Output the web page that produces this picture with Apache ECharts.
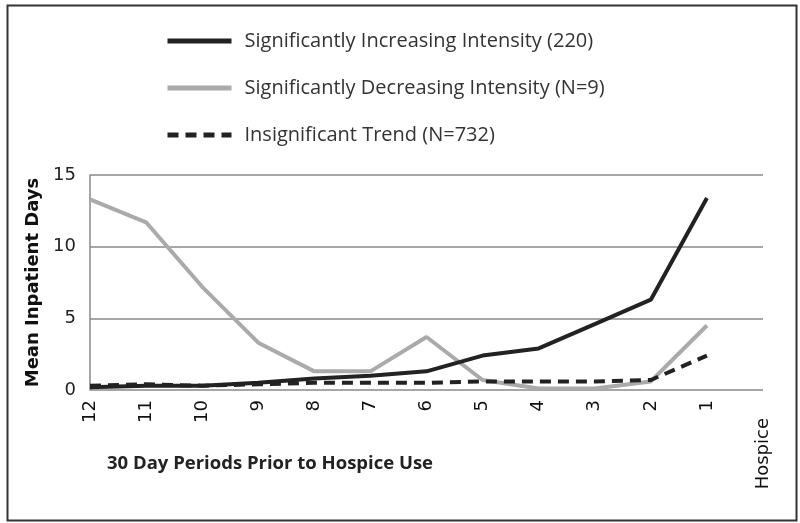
<!DOCTYPE html>
<html>
<head>
<meta charset="utf-8">
<script src="https://cdn.jsdelivr.net/npm/echarts@6/dist/echarts.min.js"></script>
<style>
  html, body { margin: 0; padding: 0; background: #fff; }
  #chart { width: 800px; height: 523px; }
</style>
</head>
<body>
<div id="chart"></div>
<script>
const periods = ['12', '11', '10', '9', '8', '7', '6', '5', '4', '3', '2', '1', 'Hospice']
const increasing = [0.2, 0.3, 0.3, 0.5, 0.8, 1.0, 1.3, 2.4, 2.9, 4.6, 6.3, 13.4]
const decreasing = [13.3, 11.7, 7.2, 3.3, 1.3, 1.3, 3.7, 0.7, 0.1, 0.1, 0.6, 4.5]
const insignificant = [0.3, 0.4, 0.3, 0.4, 0.5, 0.5, 0.5, 0.6, 0.6, 0.6, 0.7, 2.4]
const yTicks = { min: 0, max: 15, interval: 5 }

const labelFont = "'Liberation Sans Narrow', 'Open Sans', sans-serif"
const tickFont = "'DejaVu Sans', Verdana, sans-serif"

const chart = echarts.init(document.getElementById('chart'))

chart.setOption({
  animation: false,
  grid: { left: 90, right: 37, top: 175, bottom: 133 },
  legend: {
    orient: 'vertical',
    left: 160,
    top: 26,
    itemWidth: 64,
    itemHeight: 14,
    itemGap: 27,
    itemStyle: { opacity: 0 },
    lineStyle: { width: 5 },
    textStyle: { fontFamily: labelFont, fontSize: 20, color: '#333', padding: [0, 0, 0, 8] },
    data: [
      'Significantly Increasing Intensity (220)',
      'Significantly Decreasing Intensity (N=9)',
      'Insignificant Trend (N=732)'
    ]
  },
  graphic: [
    {
      type: 'rect',
      left: 5, top: 3,
      shape: { width: 789, height: 515 },
      style: { fill: 'none', stroke: '#333', lineWidth: 2 }
    },
    {
      type: 'text',
      left: 107, top: 454,
      style: {
        text: '30 Day Periods Prior to Hospice Use',
        fontFamily: labelFont, fontWeight: 'bold', fontSize: 18.5, fill: '#222'
      }
    }
  ],
  xAxis: {
    type: 'category',
    data: periods.map(p => p === 'Hospice'
      ? { value: p, textStyle: { padding: [0, 18, 0, 0] } }
      : p),
    boundaryGap: false,
    axisLine: { show: false },
    axisTick: { show: false },
    axisLabel: {
      rotate: 90, margin: 10, interval: 0,
      fontFamily: tickFont, fontSize: 18, color: '#111'
    }
  },
  yAxis: {
    type: 'value',
    min: yTicks.min, max: yTicks.max, interval: yTicks.interval,
    name: 'Mean Inpatient Days',
    nameLocation: 'middle',
    nameGap: 46,
    nameRotate: 90,
    nameTextStyle: { fontFamily: tickFont, fontWeight: 'bold', fontSize: 18, color: '#111' },
    axisLine: { show: true, lineStyle: { color: '#888', width: 1.5 } },
    axisTick: { show: false },
    axisLabel: { fontFamily: tickFont, fontSize: 18, color: '#222', margin: 14 },
    splitLine: { lineStyle: { color: '#888', width: 1.5 } }
  },
  series: [
    {
      name: 'Significantly Increasing Intensity (220)',
      type: 'line',
      data: increasing,
      symbol: 'none',
      z: 3,
      itemStyle: { color: '#222' },
      lineStyle: { color: '#222', width: 4 }
    },
    {
      name: 'Significantly Decreasing Intensity (N=9)',
      type: 'line',
      data: decreasing,
      symbol: 'none',
      z: 2,
      itemStyle: { color: '#aaa' },
      lineStyle: { color: '#aaa', width: 4 }
    },
    {
      name: 'Insignificant Trend (N=732)',
      type: 'line',
      data: insignificant,
      symbol: 'none',
      z: 4,
      itemStyle: { color: '#222' },
      lineStyle: { color: '#222', width: 4, type: [11, 7] }
    }
  ]
})
</script>
</body>
</html>
